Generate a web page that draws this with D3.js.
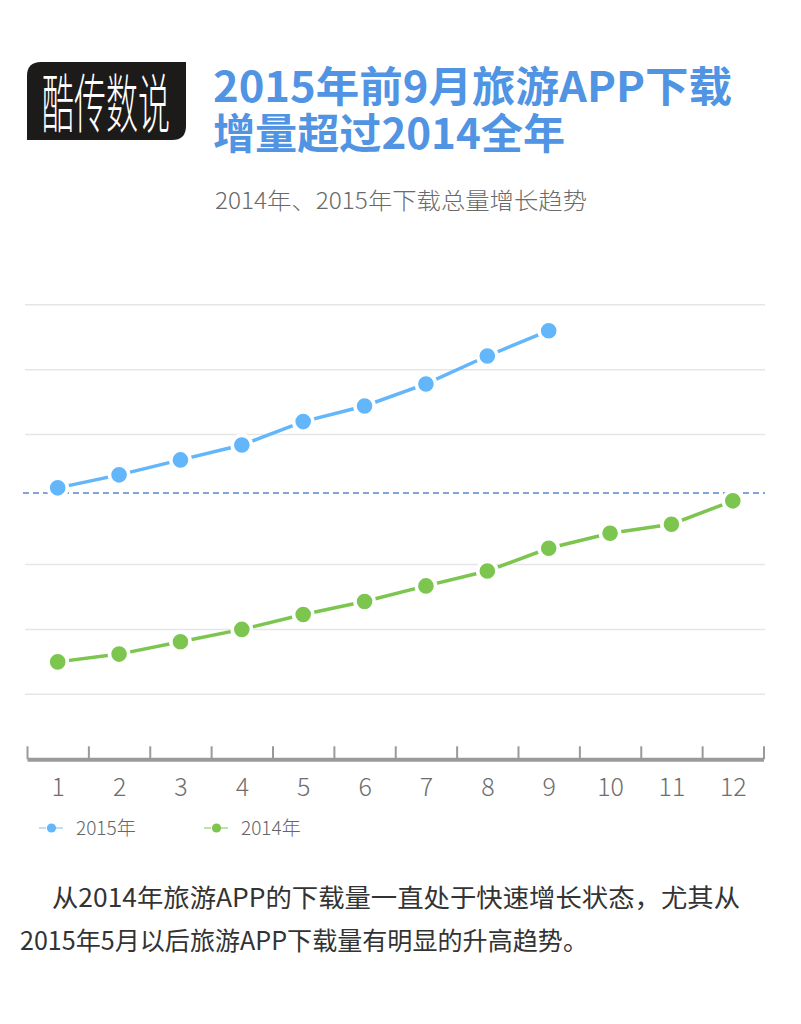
<!DOCTYPE html>
<html>
<head>
<meta charset="utf-8">
<script src="https://cdn.jsdelivr.net/npm/d3@7"></script>
<style>
    body { margin: 0; background: #fff; }
    svg { display: block; font-family: "Noto Sans CJK SC", "Noto Sans", sans-serif; }
</style>
</head>
<body>
<div id="chart"></div>
<script>
// Data (y axis has no labels, so units are arbitrary)
const months = [1, 2, 3, 4, 5, 6, 7, 8, 9, 10, 11, 12];
const values2015 = [41.8, 43.8, 46.1, 48.4, 52.0, 54.4, 57.8, 62.1, 66.0];
const values2014 = [15.0, 16.2, 18.1, 20.0, 22.3, 24.3, 26.7, 29.0, 32.5, 34.8, 36.2, 39.8];
const gridValues = [10, 20, 30, 50, 60, 70];
const refValue = 41.0;
const seriesNames = ["2015年", "2014年"];

const titleLines = ["2015年前9月旅游APP下载", "增量超过2014全年"];
const subtitle = "2014年、2015年下载总量增长趋势";
const noteLines = [
    "从2014年旅游APP的下载量一直处于快速增长状态，尤其从",
    "2015年5月以后旅游APP下载量有明显的升高趋势。",
];

const width = 801;
const height = 1024;
const BLUE = "#62b6f9";
const GREEN = "#7cc54e";

const svg = d3
    .select("#chart")
    .append("svg")
    .attr("width", width)
    .attr("height", height);

// Logo block with two rounded corners
const lx = 27, ly = 62, lw = 159, lh = 78, lr = 14;
svg.append("path")
    .attr("d", `M${lx},${ly + lr} Q${lx},${ly} ${lx + lr},${ly} L${lx + lw},${ly}
        L${lx + lw},${ly + lh - lr} Q${lx + lw},${ly + lh} ${lx + lw - lr},${ly + lh}
        L${lx},${ly + lh} Z`)
    .attr("fill", "#1d1a1a");
// condensed logo type: squeeze horizontally with a transform
svg.append("g")
    .attr("transform", "translate(42,127) scale(0.5,1)")
    .append("text")
    .attr("font-size", 64)
    .attr("font-weight", 300)
    .attr("fill", "#fff")
    .text("酷传数说");

// Title, two lines inside one text element
const titleWidths = [519, 352];
svg.append("text")
    .attr("font-size", 42)
    .attr("font-weight", 700)
    .attr("fill", "#5094e3")
    .selectAll("tspan")
    .data(titleLines)
    .enter()
    .append("tspan")
    .attr("x", 213)
    .attr("y", (d, i) => 102 + i * 47)
    .attr("textLength", (d, i) => titleWidths[i])
    .attr("lengthAdjust", "spacingAndGlyphs")
    .text((d) => d);

svg.append("text")
    .attr("x", 215)
    .attr("y", 209)
    .attr("font-size", 23)
    .attr("font-weight", 300)
    .attr("fill", "#6a6a6a")
    .attr("textLength", 372)
    .attr("lengthAdjust", "spacingAndGlyphs")
    .text(subtitle);

// Scales
const x = d3.scaleLinear().domain([0.5, 12.5]).range([27, 763.5]);
const y = d3.scaleLinear().domain([0, 70]).range([759.3, 304.7]);

// Grid lines
svg.selectAll("line.grid")
    .data(gridValues)
    .enter()
    .append("line")
    .attr("class", "grid")
    .attr("x1", 25)
    .attr("x2", 765)
    .attr("y1", (d) => y(d))
    .attr("y2", (d) => y(d))
    .attr("stroke", "#e6e6e6")
    .attr("stroke-width", 1.5);

// Reference dashed line
svg.append("line")
    .attr("x1", 23)
    .attr("x2", 765)
    .attr("y1", y(refValue))
    .attr("y2", y(refValue))
    .attr("stroke", "#5b87d0")
    .attr("stroke-width", 1.5)
    .attr("stroke-dasharray", "6,4");

// X axis: ticks on month boundaries pointing up
const boundaries = d3.range(0.5, 13, 1);
const axisG = svg.append("g")
    .attr("transform", `translate(0,${y(0)})`)
    .call(d3.axisTop(x).tickValues(boundaries).tickSize(13).tickSizeOuter(0).tickFormat(""));
axisG.select(".domain").attr("stroke", "#9a9a9a").attr("stroke-width", 4);
axisG.selectAll(".tick line").attr("stroke", "#9a9a9a").attr("stroke-width", 2);

const labelG = svg.append("g")
    .attr("transform", `translate(0,${y(0)})`)
    .call(d3.axisBottom(x).tickValues(months).tickSize(0).tickPadding(19).tickFormat(d3.format("d")));
labelG.select(".domain").remove();
labelG.selectAll("text")
    .attr("font-size", 25)
    .attr("font-weight", 300)
    .attr("fill", "#6e6e6e")
    .attr("font-family", "\"Noto Sans CJK SC\", sans-serif");

// Series
const series = [
    { name: seriesNames[0], values: values2015, color: BLUE },
    { name: seriesNames[1], values: values2014, color: GREEN },
];

const line = d3.line()
    .x((d, i) => x(months[i]))
    .y((d) => y(d));

series.forEach((s) => {
    svg.append("path")
        .datum(s.values)
        .attr("d", line)
        .attr("fill", "none")
        .attr("stroke", s.color)
        .attr("stroke-width", 3.5);

    svg.selectAll(null)
        .data(s.values)
        .enter()
        .append("circle")
        .attr("cx", (d, i) => x(months[i]))
        .attr("cy", (d) => y(d))
        .attr("r", 9.6)
        .attr("fill", s.color)
        .attr("stroke", "#fff")
        .attr("stroke-width", 3.6);
});

// Legend
const legendX = [39, 204];
const legendColorsLight = ["#a3d3fa", "#a9da8a"];
series.forEach((s, i) => {
    const g = svg.append("g").attr("transform", `translate(${legendX[i]},828)`);
    g.append("line").attr("x1", 0).attr("x2", 7).attr("stroke", legendColorsLight[i]).attr("stroke-width", 1.5);
    g.append("line").attr("x1", 17).attr("x2", 24).attr("stroke", legendColorsLight[i]).attr("stroke-width", 1.5);
    g.append("circle").attr("cx", 12.5).attr("r", 4.6).attr("fill", s.color);
    g.append("text")
        .attr("x", 37)
        .attr("y", 7)
        .attr("font-size", 19)
        .attr("font-weight", 300)
        .attr("fill", "#666")
        .text(s.name);
});

// Note text below the chart
const noteX = [52, 20];
const noteWidths = [688, 568];
svg.selectAll("text.note")
    .data(noteLines)
    .enter()
    .append("text")
    .attr("class", "note")
    .attr("x", (d, i) => noteX[i])
    .attr("y", (d, i) => 907 + i * 43)
    .attr("font-size", 25)
    .attr("fill", "#333")
    .attr("textLength", (d, i) => noteWidths[i])
    .attr("lengthAdjust", "spacingAndGlyphs")
    .text((d) => d);
</script>
</body>
</html>
